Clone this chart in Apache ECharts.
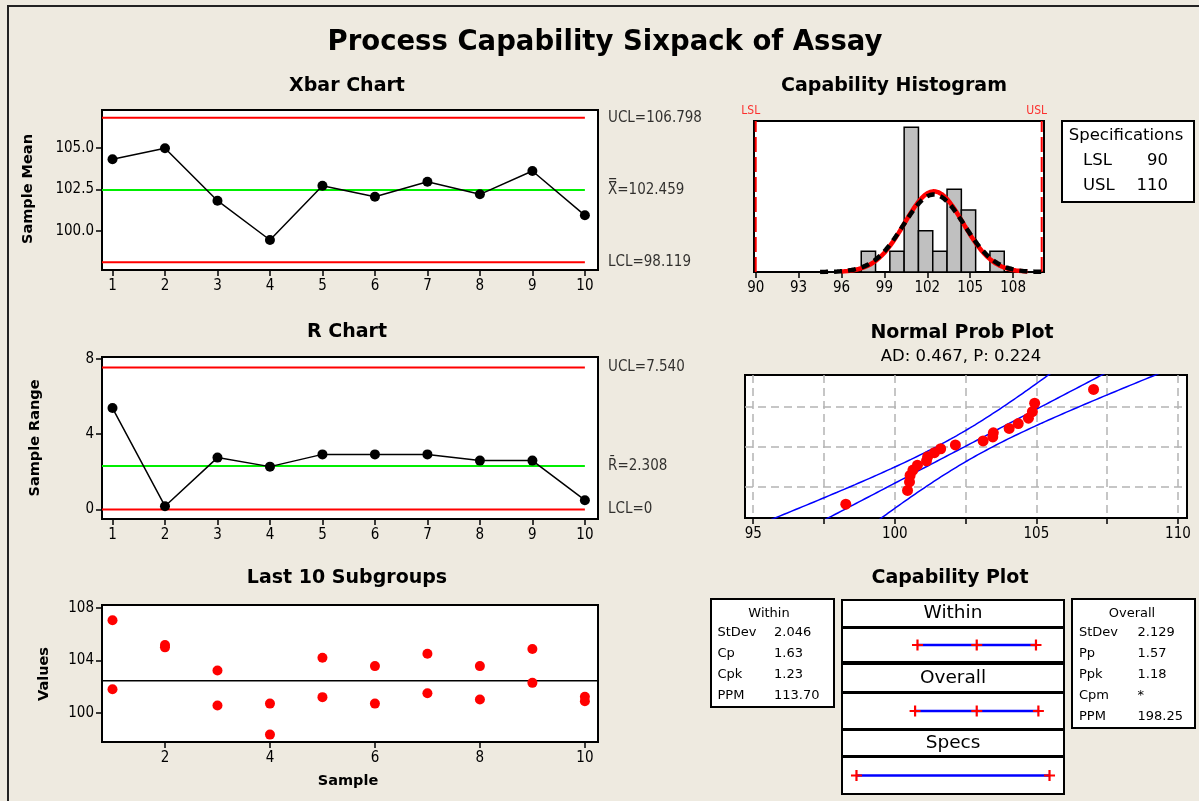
<!DOCTYPE html>
<html>
<head>
<meta charset="utf-8">
<title>Process Capability Sixpack of Assay</title>
<script src="https://cdn.jsdelivr.net/npm/echarts@6/dist/echarts.min.js"></script>
<style>
  html, body { margin: 0; padding: 0; background: #EEEAE0; }
  #chart { width: 1199px; height: 801px; }
</style>
</head>
<body>
<div id="chart"></div>
<script>
// ---------------- data ----------------
const samples = [1, 2, 3, 4, 5, 6, 7, 8, 9, 10];
const xbarValues = [104.30, 104.96, 101.82, 99.46, 102.72, 102.06, 102.96, 102.20, 103.60, 100.94];
const rangeValues = [5.39, 0.18, 2.76, 2.28, 2.93, 2.93, 2.93, 2.60, 2.60, 0.50];
// the two observations of each of the last 10 subgroups
const subgroupFirst = [107.04, 105.16, 103.24, 100.73, 104.20, 103.57, 104.51, 103.57, 104.86, 101.24];
const subgroupSecond = [101.82, 104.99, 100.58, 98.38, 101.22, 100.73, 101.52, 101.04, 102.30, 100.91];
const xbarLimits = [106.798, 102.459, 98.119];   // UCL, centre, LCL
const rangeLimits = [7.540, 2.308, 0];          // UCL, centre, LCL
const histStart = 97.38, histWidth = 1.0;
const histCounts = [1, 0, 1, 7, 2, 1, 4, 3, 0, 1];
const probValues = [98.27, 100.45, 100.52, 100.54, 100.64, 100.80, 101.12, 101.16, 101.40, 101.62,
                    102.14, 103.12, 103.46, 103.48, 104.04, 104.36, 104.72, 104.86, 104.94, 107.02];
const specLimits = [90, 110];                    // LSL, USL
const processMean = 102.459;
const sdWithin = 2.046, sdOverall = 2.129;
const sampleCount = 20;
const withinStats = [['StDev', '2.046'], ['Cp', '1.63'], ['Cpk', '1.23'], ['PPM', '113.70']];
const overallStats = [['StDev', '2.129'], ['Pp', '1.57'], ['Ppk', '1.18'], ['Cpm', '*'], ['PPM', '198.25']];
const histTicks = [90, 93, 96, 99, 102, 105, 108];
const probTicks = [95, 97.5, 100, 102.5, 105, 107.5, 110];
const probLabels = [95, 100, 105, 110];

// ---------------- helpers ----------------
const FONT_AX = "'DejaVu Sans Condensed', 'Liberation Sans Narrow', sans-serif";
const FONT = "'DejaVu Sans', sans-serif";
const FONT_B = "'DejaVu Sans', sans-serif";

function normInv(p) {
  const a = [-3.969683028665376e+01, 2.209460984245205e+02, -2.759285104469687e+02, 1.383577518672690e+02, -3.066479806614716e+01, 2.506628277459239e+00];
  const b = [-5.447609879822406e+01, 1.615858368580409e+02, -1.556989798598866e+02, 6.680131188771972e+01, -1.328068155288572e+01];
  const c = [-7.784894002430293e-03, -3.223964580411365e-01, -2.400758277161838e+00, -2.549732539343734e+00, 4.374664141464968e+00, 2.938163982698783e+00];
  const d = [7.784695709041462e-03, 3.224671290700398e-01, 2.445134137142996e+00, 3.754408661907416e+00];
  const pl = 0.02425, ph = 1 - pl;
  let q, r;
  if (p < pl) {
    q = Math.sqrt(-2 * Math.log(p));
    return (((((c[0] * q + c[1]) * q + c[2]) * q + c[3]) * q + c[4]) * q + c[5]) / ((((d[0] * q + d[1]) * q + d[2]) * q + d[3]) * q + 1);
  }
  if (p > ph) {
    q = Math.sqrt(-2 * Math.log(1 - p));
    return -(((((c[0] * q + c[1]) * q + c[2]) * q + c[3]) * q + c[4]) * q + c[5]) / ((((d[0] * q + d[1]) * q + d[2]) * q + d[3]) * q + 1);
  }
  q = p - 0.5; r = q * q;
  return (((((a[0] * r + a[1]) * r + a[2]) * r + a[3]) * r + a[4]) * r + a[5]) * q / (((((b[0] * r + b[1]) * r + b[2]) * r + b[3]) * r + b[4]) * r + 1);
}

// fitted normal density scaled to histogram counts
function densityCurve(sd, from, to) {
  const pts = [];
  for (let x = from; x <= to + 1e-9; x += 0.1) {
    const z = (x - processMean) / sd;
    pts.push([x, sampleCount * histWidth * Math.exp(-0.5 * z * z) / (sd * Math.sqrt(2 * Math.PI))]);
  }
  return pts;
}

// fitted line and 95% bounds on the normal probability plot
function probLine(offsetSign) {
  const pts = [];
  const t = 2.093;
  for (let z = -2.7; z <= 2.7 + 1e-9; z += 0.05) {
    const half = t * sdOverall * Math.sqrt(1 / sampleCount + z * z / (2 * sampleCount));
    pts.push([processMean + sdOverall * z + offsetSign * half, z]);
  }
  return pts;
}

const gridStyle = { show: true, backgroundColor: '#fff', borderColor: '#000', borderWidth: 2 };
const tickStyle = { color: '#000', width: 1.5 };
const labelStyle = { color: '#000', fontFamily: FONT_AX, fontSize: 15 };

function axisX(gridIndex, min, max, tickVals, labelVals, extra) {
  return Object.assign({
    type: 'value', gridIndex, min, max,
    axisLine: { show: false, onZero: false },
    splitLine: { show: false },
    axisTick: tickVals ? { show: true, customValues: tickVals, length: 6, lineStyle: tickStyle } : { show: false },
    axisLabel: labelVals ? Object.assign({ show: true, customValues: labelVals, margin: 9 }, labelStyle) : { show: false }
  }, extra || {});
}
function axisY(gridIndex, min, max, tickVals, labelVals, fmt, extra) {
  return Object.assign({
    type: 'value', gridIndex, min, max,
    axisLine: { show: false, onZero: false },
    splitLine: { show: false },
    axisTick: tickVals ? { show: true, customValues: tickVals, length: 6, lineStyle: tickStyle } : { show: false },
    axisLabel: labelVals ? Object.assign({ show: true, customValues: labelVals, margin: 8, formatter: fmt }, labelStyle) : { show: false }
  }, extra || {});
}

function hLine(xi, value, x0, x1, color, width) {
  return {
    type: 'line', xAxisIndex: xi, yAxisIndex: xi, data: [[x0, value], [x1, value]],
    symbol: 'none', silent: true, z: 2,
    lineStyle: { color, width: width || 2 }
  };
}
function sideLabel(xi, x, value, text) {
  return {
    type: 'scatter', xAxisIndex: xi, yAxisIndex: xi, data: [[x, value]],
    symbolSize: 0, silent: true, clip: false,
    label: { show: true, position: 'right', distance: 10, formatter: text,
             color: '#000', fontFamily: FONT_AX, fontSize: 15 }
  };
}

const XMIN = 0.8, XMAX = 10.25;
const crossPath = 'path://M4,0H6V4H10V6H6V10H4V6H0V4H4Z';

function capSeries(xi, points) {
  return [
    { type: 'line', xAxisIndex: xi, yAxisIndex: xi, data: points.map(v => [v, 0.5]),
      symbol: 'none', silent: true, lineStyle: { color: '#0000FF', width: 2.5 } },
    { type: 'scatter', xAxisIndex: xi, yAxisIndex: xi, data: points.map(v => [v, 0.5]),
      symbol: crossPath, symbolSize: 11, itemStyle: { color: '#FF0000', opacity: 1 }, silent: true, z: 3 }
  ];
}

// ---------------- grids ----------------
const grids = [
  Object.assign({ left: 102, top: 110, width: 496, height: 160 }, gridStyle),   // Xbar
  Object.assign({ left: 102, top: 357, width: 496, height: 162 }, gridStyle),   // R
  Object.assign({ left: 102, top: 605, width: 496, height: 137 }, gridStyle),   // last subgroups
  Object.assign({ left: 754, top: 121, width: 290, height: 151 }, gridStyle),   // histogram
  Object.assign({ left: 745, top: 375, width: 442, height: 143 }, gridStyle),   // normal plot
  Object.assign({ left: 842, top: 628, width: 222, height: 34 }, gridStyle),    // within interval
  Object.assign({ left: 842, top: 693, width: 222, height: 36 }, gridStyle),    // overall interval
  Object.assign({ left: 842, top: 757, width: 222, height: 37 }, gridStyle)     // specs interval
];

const histYMax = 7.3;
const xAxes = [
  axisX(0, XMIN, XMAX, samples, samples),
  axisX(1, XMIN, XMAX, samples, samples),
  axisX(2, XMIN, XMAX, [2, 4, 6, 8, 10], [2, 4, 6, 8, 10]),
  axisX(3, 89.88, 110.16, histTicks, histTicks),
  axisX(4, 94.71, 110.32, probTicks, probLabels, {
    splitLine: { show: true, lineStyle: { color: '#B4B4B4', width: 1.5, type: [8, 5] } }
  }),
  axisX(5, 88.5, 111.5, null, null),
  axisX(6, 88.5, 111.5, null, null),
  axisX(7, 88.5, 111.5, null, null)
];
const yAxes = [
  axisY(0, 97.66, 107.26, [100, 102.5, 105], [100, 102.5, 105], v => v.toFixed(1)),
  axisY(1, -0.5, 8.1, [0, 4, 8], [0, 4, 8], v => String(v)),
  axisY(2, 97.82, 108.2, [100, 104, 108], [100, 104, 108], v => String(v)),
  axisY(3, 0, histYMax, null, null),
  axisY(4, -2.26, 2.28, null, null, null, {
    axisTick: { show: false, customValues: [-1.2816, 0, 1.2816] },
    splitLine: { show: true, lineStyle: { color: '#B4B4B4', width: 1.5, type: [8, 5] } }
  }),
  axisY(5, 0, 1, null, null),
  axisY(6, 0, 1, null, null),
  axisY(7, 0, 1, null, null)
];

// ---------------- series ----------------
const series = [];

// Xbar chart
series.push(hLine(0, xbarLimits[0], XMIN, 10, '#FF0000'));
series.push(hLine(0, xbarLimits[1], XMIN, 10, '#00EE00'));
series.push(hLine(0, xbarLimits[2], XMIN, 10, '#FF0000'));
series.push({
  type: 'line', xAxisIndex: 0, yAxisIndex: 0, z: 4,
  data: samples.map((s, i) => [s, xbarValues[i]]),
  symbol: 'circle', symbolSize: 10, itemStyle: { color: '#000' }, lineStyle: { color: '#000', width: 1.5 }
});
series.push(sideLabel(0, XMAX, xbarLimits[0], 'UCL=106.798'));
series.push(sideLabel(0, XMAX, xbarLimits[1], 'X\u033F=102.459'));
series.push(sideLabel(0, XMAX, xbarLimits[2], 'LCL=98.119'));

// R chart
series.push(hLine(1, rangeLimits[0], XMIN, 10, '#FF0000'));
series.push(hLine(1, rangeLimits[1], XMIN, 10, '#00EE00'));
series.push(hLine(1, rangeLimits[2], XMIN, 10, '#FF0000'));
series.push({
  type: 'line', xAxisIndex: 1, yAxisIndex: 1, z: 4,
  data: samples.map((s, i) => [s, rangeValues[i]]),
  symbol: 'circle', symbolSize: 10, itemStyle: { color: '#000' }, lineStyle: { color: '#000', width: 1.5 }
});
series.push(sideLabel(1, XMAX, rangeLimits[0], 'UCL=7.540'));
series.push(sideLabel(1, XMAX, rangeLimits[1], 'R\u0304=2.308'));
series.push(sideLabel(1, XMAX, rangeLimits[2], 'LCL=0'));

// Last 10 subgroups
series.push(hLine(2, xbarLimits[1], XMIN, XMAX, '#000', 1.5));
series.push({
  type: 'scatter', xAxisIndex: 2, yAxisIndex: 2, z: 4,
  data: samples.map((s, i) => [s, subgroupFirst[i]]).concat(samples.map((s, i) => [s, subgroupSecond[i]])),
  symbol: 'circle', symbolSize: 10, itemStyle: { color: '#FF0000', opacity: 1 }
});

// Capability histogram
series.push({
  type: 'custom', xAxisIndex: 3, yAxisIndex: 3, z: 2,
  data: histCounts.map((c, i) => [histStart + i * histWidth, histStart + (i + 1) * histWidth, c]).filter(d => d[2] > 0),
  encode: { x: [0, 1], y: 2 },
  renderItem: (params, api) => {
    const p0 = api.coord([api.value(0), api.value(2)]);
    const p1 = api.coord([api.value(1), 0]);
    return { type: 'rect', shape: { x: p0[0], y: p0[1], width: p1[0] - p0[0], height: p1[1] - p0[1] },
             style: { fill: '#C0C0C0', stroke: '#000', lineWidth: 1.5 } };
  }
});
specLimits.forEach((v, k) => {
  series.push({
    type: 'line', xAxisIndex: 3, yAxisIndex: 3, data: [[v, 0], [v, histYMax]], symbol: 'none', silent: true, z: 3,
    lineStyle: { color: '#FF0000', width: 2, type: [15, 5] }
  });
  series.push({
    type: 'scatter', xAxisIndex: 3, yAxisIndex: 3, data: [[v, histYMax]], symbolSize: 0, silent: true, clip: false,
    label: { show: true, position: 'top', distance: 4, offset: [-5, 0], formatter: k === 0 ? 'LSL' : 'USL',
             color: '#FF0000', fontFamily: FONT_AX, fontSize: 12 }
  });
});
series.push({
  type: 'line', xAxisIndex: 3, yAxisIndex: 3, data: densityCurve(sdWithin, 96.0, 109.0), symbol: 'none', silent: true, z: 4,
  lineStyle: { color: '#FF0000', width: 4.5 }
});
series.push({
  type: 'line', xAxisIndex: 3, yAxisIndex: 3, data: densityCurve(sdOverall, 94.5, 110.1), symbol: 'none', silent: true, z: 5,
  lineStyle: { color: '#000', width: 4.5, type: [8, 6] }
});

// Normal probability plot
[-1, 0, 1].forEach(sign => {
  series.push({
    type: 'line', xAxisIndex: 4, yAxisIndex: 4, data: probLine(sign), symbol: 'none', silent: true, z: 3,
    lineStyle: { color: '#0000FF', width: 1.5 }
  });
});
series.push({
  type: 'scatter', xAxisIndex: 4, yAxisIndex: 4, z: 5,
  data: probValues.map((v, i) => [v, normInv((i + 1 - 0.3) / (sampleCount + 0.4))]),
  symbol: 'circle', symbolSize: 11, itemStyle: { color: '#FF0000', opacity: 1 }
});

// Capability plot intervals
capSeries(5, [processMean - 3 * sdWithin, processMean, processMean + 3 * sdWithin]).forEach(s => series.push(s));
capSeries(6, [processMean - 3 * sdOverall, processMean, processMean + 3 * sdOverall]).forEach(s => series.push(s));
capSeries(7, specLimits).forEach(s => series.push(s));

// ---------------- text and boxes ----------------
function txt(x, y, text, size, opts) {
  return Object.assign({
    type: 'text', x, y, silent: true,
    style: Object.assign({ text, fill: '#000', font: (opts && opts.weight ? opts.weight + ' ' : '') + size + 'px ' + ((opts && opts.family) || FONT),
                           textAlign: (opts && opts.align) || 'center', textVerticalAlign: 'middle' })
  }, opts && opts.rotation ? { rotation: opts.rotation } : {});
}
function box(x, y, w, h) {
  return { type: 'rect', shape: { x, y, width: w, height: h }, silent: true,
           style: { fill: '#fff', stroke: '#000', lineWidth: 2 } };
}

const graphics = [
  { type: 'rect', shape: { x: 8, y: 6, width: 1300, height: 900 }, silent: true, style: { fill: 'none', stroke: '#222', lineWidth: 2 } },
  txt(605, 43, 'Process Capability Sixpack of Assay', 27.5, { weight: 'bold', family: FONT_B }),
  txt(347, 86, 'Xbar Chart', 19, { weight: 'bold', family: FONT_B }),
  txt(347, 332, 'R Chart', 19, { weight: 'bold', family: FONT_B }),
  txt(347, 578, 'Last 10 Subgroups', 19, { weight: 'bold', family: FONT_B }),
  txt(894, 86, 'Capability Histogram', 19, { weight: 'bold', family: FONT_B }),
  txt(962, 333, 'Normal Prob Plot', 19, { weight: 'bold', family: FONT_B }),
  txt(961, 357, 'AD: 0.467, P: 0.224', 16.5, {}),
  txt(950, 578, 'Capability Plot', 19, { weight: 'bold', family: FONT_B }),
  txt(28.5, 189, 'Sample Mean', 14.5, { weight: 'bold', family: FONT_B, rotation: Math.PI / 2 }),
  txt(35, 438, 'Sample Range', 14.5, { weight: 'bold', family: FONT_B, rotation: Math.PI / 2 }),
  txt(44, 674, 'Values', 14.5, { weight: 'bold', family: FONT_B, rotation: Math.PI / 2 }),
  txt(348, 781, 'Sample', 14.5, { weight: 'bold', family: FONT_B }),

  // specifications box
  box(1062, 121, 132, 81),
  txt(1126, 136, 'Specifications', 16.5, {}),
  txt(1083, 161, 'LSL', 16.5, { align: 'left' }),
  txt(1168, 161, String(specLimits[0]), 16.5, { align: 'right' }),
  txt(1083, 186, 'USL', 16.5, { align: 'left' }),
  txt(1168, 186, String(specLimits[1]), 16.5, { align: 'right' }),

  // capability plot headers
  box(842, 600, 222, 27),
  txt(953, 613, 'Within', 18.5, {}),
  box(842, 664, 222, 28),
  txt(953, 678, 'Overall', 18.5, {}),
  box(842, 730, 222, 26),
  txt(953, 743, 'Specs', 18.5, {}),

  // within / overall tables
  box(711, 599, 123, 108),
  txt(769, 614, 'Within', 13, {}),
  box(1072, 599, 123, 129),
  txt(1132, 614, 'Overall', 13, {})
];
withinStats.forEach((r, i) => {
  graphics.push(txt(717.5, 632.5 + 21 * i, r[0], 13, { align: 'left' }));
  graphics.push(txt(774, 632.5 + 21 * i, r[1], 13, { align: 'left' }));
});
overallStats.forEach((r, i) => {
  graphics.push(txt(1079, 632.5 + 21 * i, r[0], 13, { align: 'left' }));
  graphics.push(txt(1137.5, 632.5 + 21 * i, r[1], 13, { align: 'left' }));
});

const chart = echarts.init(document.getElementById('chart'), null, { renderer: 'canvas', width: 1199, height: 801 });
chart.setOption({
  backgroundColor: '#EEEAE0',
  animation: false,
  grid: grids,
  xAxis: xAxes,
  yAxis: yAxes,
  series,
  graphic: graphics
});
</script>
</body>
</html>
